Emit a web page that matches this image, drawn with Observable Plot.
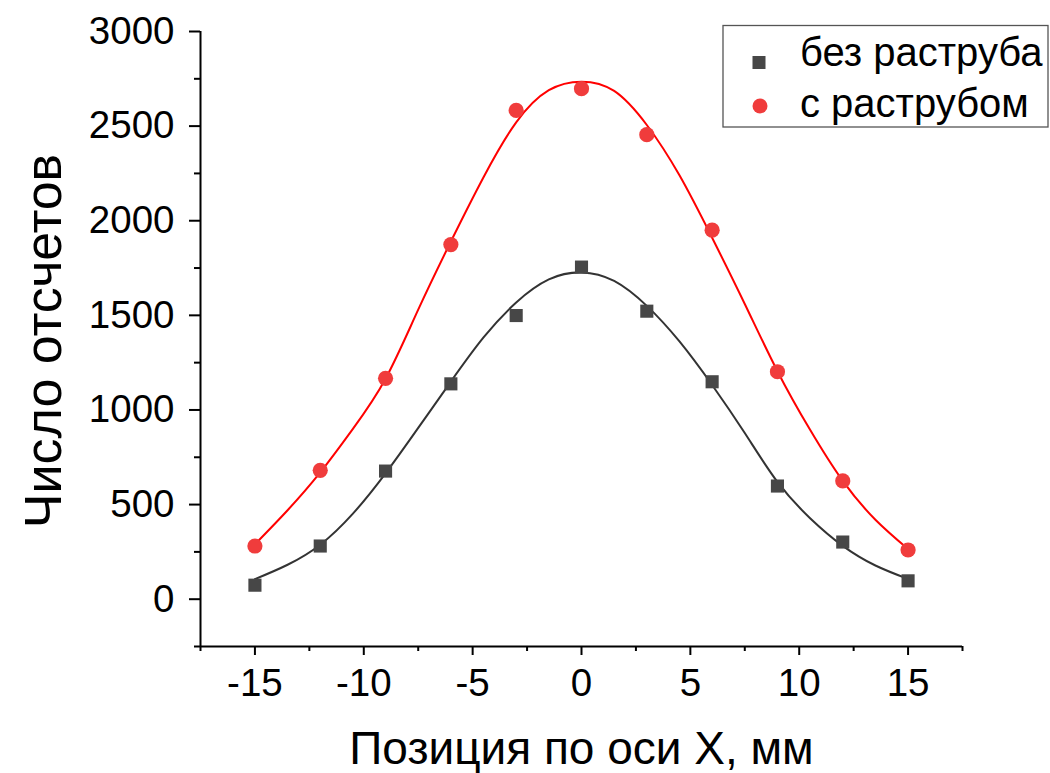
<!DOCTYPE html>
<html>
<head>
<meta charset="utf-8">
<script src="https://cdn.jsdelivr.net/npm/d3@7"></script>
<script src="https://cdn.jsdelivr.net/npm/@observablehq/plot@0.6"></script>
<style>
  html, body { margin: 0; padding: 0; background: #fff; }
  #chart { width: 1050px; height: 773px; }
</style>
</head>
<body>
<div id="chart"></div>
<script>
// ---- data ----
const seriesNames = ["без раструба", "с раструбом"];
const xPos = [-15, -12, -9, -6, -3, 0, 3, 6, 9, 12, 15];
const countsWithout = [74, 281, 677, 1138, 1499, 1755, 1522, 1149, 598, 302, 97];
const countsWith = [281, 681, 1167, 1874, 2583, 2698, 2455, 1950, 1202, 625, 260];

// fitted curves
const fitX = [-15, -13.5, -12, -10.5, -9, -7.5, -6, -4.5, -3, -1.5, 0, 1.5, 3, 4.5, 6, 7.5, 9, 10.5, 12, 13.5, 15];
const fitWithout = [106, 182, 288, 452, 665, 905, 1150, 1383, 1568, 1690, 1727, 1682, 1550, 1362, 1132, 878, 620, 428, 282, 178, 107];
const fitWith = [290, 470, 670, 900, 1165, 1530, 1890, 2230, 2520, 2690, 2735, 2686, 2506, 2240, 1910, 1560, 1205, 895, 625, 420, 265];

const xDomain = [-17.5, 17.5];
const yDomain = [-250, 3000];
const xTicks = [-15, -10, -5, 0, 5, 10, 15];
const xMinor = [-17.5, -12.5, -7.5, -2.5, 2.5, 7.5, 12.5, 17.5];
const yTicks = [0, 500, 1000, 1500, 2000, 2500, 3000];
const yMinor = [-250, 250, 750, 1250, 1750, 2250, 2750];
const xTitle = "Позиция по оси X, мм";
const yTitle = "Число отсчетов";

const colorWithout = "#474747";
const colorWith = "#f03c3c";
const lineWithout = "#333333";
const lineWith = "#ff0000";

// ---- tables ----
const pts = (vals, s) => xPos.map((x, i) => ({x, y: vals[i], s}));
const fit = (vals, s) => fitX.map((x, i) => ({x, y: vals[i], s}));
const ptsWithout = pts(countsWithout, seriesNames[0]);
const ptsWith = pts(countsWith, seriesNames[1]);
const fitW = fit(fitWithout, seriesNames[0]);
const fitR = fit(fitWith, seriesNames[1]);

const fmt = d => String(d);
const FS = 38.5;
const FONT = "'Liberation Sans', Arial, sans-serif";

const chart = Plot.plot({
  width: 1050,
  height: 773,
  marginLeft: 200,
  marginRight: 88,
  marginTop: 31,
  marginBottom: 127,
  style: {fontFamily: FONT, background: "#fff", color: "#000", overflow: "visible"},
  x: {domain: xDomain},
  y: {domain: yDomain},
  marks: [
    Plot.axisX(xTicks, {tickSize: 9, tickPadding: 13, fontSize: FS, strokeWidth: 2, tickFormat: fmt, label: null}),
    Plot.axisX(xMinor, {tickSize: 5, strokeWidth: 2, tickFormat: () => "", label: null}),
    Plot.axisY(yTicks, {tickSize: 11, tickPadding: 15, fontSize: FS, strokeWidth: 2, tickFormat: fmt, label: null}),
    Plot.axisY(yMinor, {tickSize: 6, strokeWidth: 2, tickFormat: () => "", label: null}),
    Plot.ruleX([xDomain[0]], {stroke: "#000", strokeWidth: 2}),
    Plot.ruleY([yDomain[0]], {stroke: "#000", strokeWidth: 2}),
    Plot.line(fitW, {x: "x", y: "y", curve: "natural", stroke: lineWithout, strokeWidth: 2}),
    Plot.line(fitR, {x: "x", y: "y", curve: "natural", stroke: lineWith, strokeWidth: 2}),
    Plot.dot(ptsWithout, {x: "x", y: "y", symbol: "square", r: 7.4, fill: colorWithout, stroke: "none"}),
    Plot.dot(ptsWith, {x: "x", y: "y", symbol: "circle", r: 7.6, fill: colorWith, stroke: "none"}),
    Plot.text([xTitle], {frameAnchor: "bottom", textAnchor: "middle", lineAnchor: "middle", dy: 103, fontSize: 46, fill: "#000"}),
    Plot.text([yTitle], {frameAnchor: "left", textAnchor: "middle", lineAnchor: "middle", dx: -156, dy: 2, rotate: -90, fontSize: 52, fill: "#000"})
  ]
});

document.getElementById("chart").appendChild(chart);

// ---- legend (inside the svg, top right) ----
const svg = d3.select(chart);
const lg = svg.append("g").attr("class", "legend");
lg.append("rect").attr("x", 723).attr("y", 25.5).attr("width", 325).attr("height", 101.5)
  .attr("fill", "#fff").attr("stroke", "#555").attr("stroke-width", 1.3);
const legendItems = [
  {name: seriesNames[0], symbol: "square", color: colorWithout, cy: 62.5, base: 66},
  {name: seriesNames[1], symbol: "circle", color: colorWith, cy: 106, base: 117}
];
legendItems.forEach(it => {
  if (it.symbol === "square") {
    lg.append("rect").attr("x", 759 - 6.5).attr("y", it.cy - 6.5).attr("width", 13).attr("height", 13).attr("fill", it.color);
  } else {
    lg.append("circle").attr("cx", 760).attr("cy", it.cy).attr("r", 7.5).attr("fill", it.color);
  }
  lg.append("text").attr("x", 800).attr("y", it.base)
    .attr("text-anchor", "start")
    .attr("font-size", 40).attr("font-family", FONT)
    .attr("fill", "#000").text(it.name);
});
</script>
</body>
</html>
